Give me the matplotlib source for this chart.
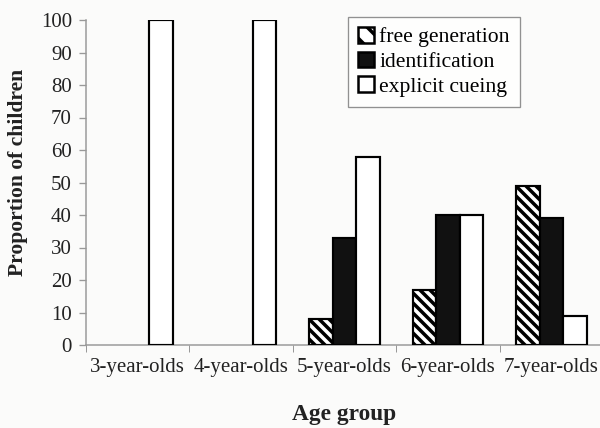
import matplotlib
matplotlib.use("Agg")
import matplotlib.pyplot as plt
import numpy as np
from matplotlib.patches import Patch

categories = ["3-year-olds", "4-year-olds", "5-year-olds", "6-year-olds", "7-year-olds"]
free_generation = [0, 0, 8, 17, 49]
identification = [0, 0, 33, 40, 39]
explicit_cueing = [100, 100, 58, 40, 9]
series_names = ["free generation", "identification", "explicit cueing"]
yticks = list(range(0, 101, 10))

DPI = 120
W, H = 600, 428
plt.rcParams['font.family'] = ['Liberation Serif', 'DejaVu Serif']
plt.rcParams['hatch.linewidth'] = 2.1
plt.rcParams['hatch.color'] = 'black'

HATCH = '\\' * 4
bg = '#fbfbfa'
fig = plt.figure(figsize=(W / DPI, H / DPI), dpi=DPI, facecolor=bg)
ax = fig.add_axes([86 / W, 83 / H, 517 / W, 325 / H], facecolor=bg)

x = np.arange(len(categories))
bw = 0.227
lw = 1.3
c1 = ax.bar(x - bw, free_generation, bw, facecolor='white', edgecolor='black', hatch=HATCH, linewidth=lw, zorder=3)
c2 = ax.bar(x, identification, bw, facecolor='#111111', edgecolor='black', linewidth=lw, zorder=3)
c3 = ax.bar(x + bw, explicit_cueing, bw, facecolor='white', edgecolor='black', linewidth=lw, zorder=3)
for cont, vals in ((c1, free_generation), (c2, identification), (c3, explicit_cueing)):
    for p, v in zip(cont.patches, vals):
        if v == 0:
            p.set_visible(False)

ax.set_xlim(-0.5, 4.5)
ax.set_ylim(0, 100)
ax.set_yticks(yticks)
ax.set_yticklabels([str(t) for t in yticks], fontsize=12.5, color='#222222')
ax.set_xticks(x)
ax.set_xticklabels(categories, fontsize=12.5, color='#222222')
ax.set_xticks(np.arange(-0.5, 5.0, 1.0), minor=True)
ax.tick_params(axis='x', which='major', length=0, pad=8)
ax.tick_params(axis='x', which='minor', length=4, color='#999999', direction='out')
ax.tick_params(axis='y', which='major', length=4.5, color='#999999', pad=4)

for s in ['top', 'right']:
    ax.spines[s].set_visible(False)
for s in ['left', 'bottom']:
    ax.spines[s].set_color('#999999')
    ax.spines[s].set_linewidth(0.9)

ax.set_ylabel("Proportion of children", fontsize=13, fontweight='bold', color='#222222')
ax.yaxis.set_label_coords(-0.112, 0.532)
ax.set_xlabel("Age group", fontsize=14, fontweight='bold', color='#222222', labelpad=16)

handles = [
    Patch(facecolor='white', edgecolor='black', hatch='\\\\', linewidth=1.5),
    Patch(facecolor='#111111', edgecolor='black', linewidth=1.5),
    Patch(facecolor='white', edgecolor='black', linewidth=1.5),
]
leg = fig.legend(handles, series_names, loc='upper left', bbox_to_anchor=(348 / W, 1 - 17 / H),
                 bbox_transform=fig.transFigure, borderaxespad=0, fontsize=13, frameon=True,
                 fancybox=False, edgecolor='#777777', handlelength=0.75, handleheight=0.75,
                 handletextpad=0.25, labelspacing=0.2, borderpad=0.45)
leg.get_frame().set_linewidth(0.8)
leg.get_frame().set_facecolor('white')

fig.savefig("out.png", dpi=DPI, facecolor=bg)
